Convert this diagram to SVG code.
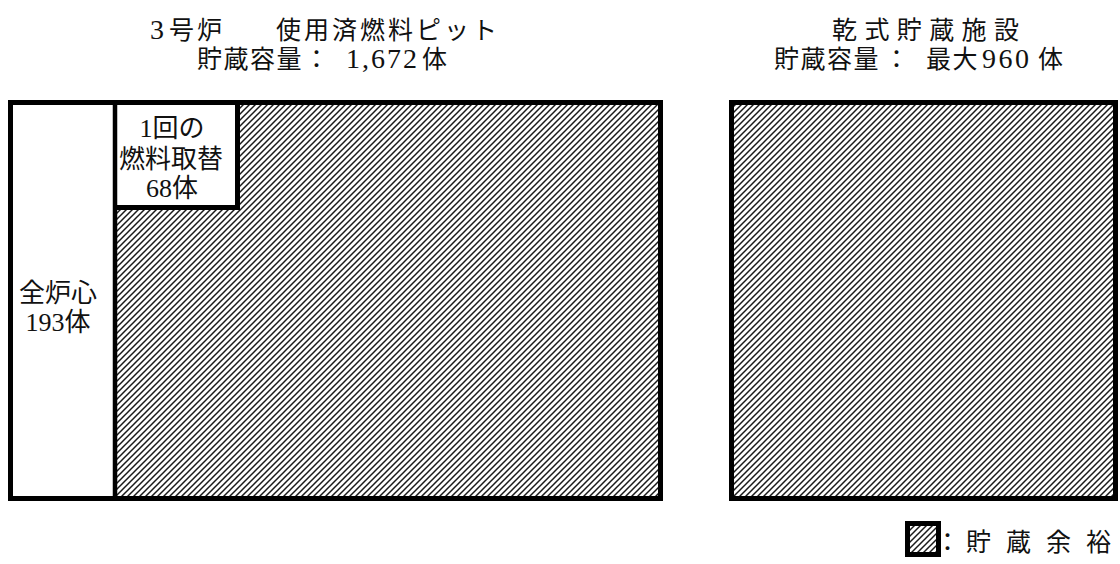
<svg xmlns="http://www.w3.org/2000/svg" width="1120" height="564" viewBox="0 0 1120 564">
<defs>
<pattern id="hatch" patternUnits="userSpaceOnUse" width="6" height="6">
<path d="M-1,1 L1,-1 M0,6 L6,0 M5,7 L7,5" stroke="#1a1a1a" stroke-width="1.5"/>
</pattern>
</defs>
<style>
.t{font-family:"Liberation Serif","Noto Sans CJK JP",serif;fill:#111;}
.title{font-size:25px;}
.num{font-size:28px;}
.lab{font-size:26px;}
.box{fill:none;stroke:#000;stroke-width:5;}
</style>
<rect width="1120" height="564" fill="#fff"/>
<g id="titles">
<text class="t title" y="39"><tspan x="150" class="num">3</tspan><tspan x="169" letter-spacing="3">号炉</tspan><tspan x="276" letter-spacing="3">使用済燃料ピット</tspan></text>
<text class="t title" y="68"><tspan x="197" letter-spacing="1.5">貯蔵容量</tspan><tspan x="304">：</tspan><tspan x="346" class="num" letter-spacing="2">1,672</tspan><tspan x="422">体</tspan></text>
<text class="t title" x="832" y="39" letter-spacing="7.4">乾式貯蔵施設</text>
<text class="t title" y="68"><tspan x="774" letter-spacing="1.5">貯蔵容量</tspan><tspan x="884">：</tspan><tspan x="926" letter-spacing="1.5">最大</tspan><tspan x="982" class="num" letter-spacing="2.5">960</tspan><tspan x="1038">体</tspan></text>
</g>
<g id="pit">
<rect x="10.5" y="102.5" width="650" height="396" fill="url(#hatch)"/>
<rect x="13" y="105" width="100" height="391" fill="#fff"/>
<rect x="117" y="105" width="118" height="100" fill="#fff"/>
<rect class="box" x="10.5" y="102.5" width="650" height="396"/>
<line x1="115" y1="100" x2="115" y2="501" stroke="#000" stroke-width="4.5"/>
<path class="box" d="M115,207.5 H237.5 V100"/>
</g>
<g id="core">
<text class="t lab" x="58" y="302" text-anchor="middle">全炉心</text>
<text class="t lab" x="58" y="331" text-anchor="middle">193体</text>
</g>
<g id="refuel">
<text class="t lab" x="172" y="137" text-anchor="middle">1回の</text>
<text class="t lab" x="171" y="168" text-anchor="middle">燃料取替</text>
<text class="t lab" x="172" y="197" text-anchor="middle">68体</text>
</g>
<g id="dry">
<rect x="731.5" y="102.5" width="384" height="396" fill="url(#hatch)" stroke="#000" stroke-width="5"/>
</g>
<g id="legend">
<rect x="907.5" y="523.5" width="31" height="31" fill="url(#hatch)" stroke="#000" stroke-width="5"/>
<text class="t title" x="935" y="551">：</text>
<text class="t title" y="551"><tspan x="966">貯</tspan><tspan x="1006">蔵</tspan><tspan x="1046">余</tspan><tspan x="1086">裕</tspan></text>
</g>
<g id="connectors"/>
</svg>
